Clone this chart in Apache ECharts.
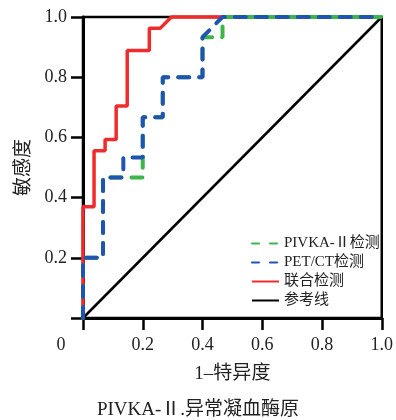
<!DOCTYPE html>
<html>
<head>
<meta charset="utf-8">
<script src="https://cdn.jsdelivr.net/npm/echarts@6/dist/echarts.min.js"></script>
<style>
  html, body { margin: 0; padding: 0; background: #fff; }
  #chart { width: 396px; height: 420px; }
</style>
</head>
<body>
<div id="chart"></div>
<script>
// 坐标轴刻度
const xTicks = [0, 0.2, 0.4, 0.6, 0.8, 1.0];
const yTicks = [0, 0.2, 0.4, 0.6, 0.8, 1.0];

// 各曲线 (1-特异度, 敏感度)
const pivkaFpr = [0, 0, 0.067, 0.067, 0.2, 0.2, 0.267, 0.267, 0.4, 0.4, 0.467, 0.467, 1];
const pivkaTpr = [0, 0.2, 0.2, 0.467, 0.467, 0.667, 0.667, 0.8, 0.8, 0.933, 0.933, 1, 1];

const petFpr = [0, 0, 0.067, 0.067, 0.135, 0.135, 0.2, 0.2, 0.267, 0.267, 0.4, 0.4, 0.467, 1];
const petTpr = [0, 0.2, 0.2, 0.467, 0.467, 0.533, 0.533, 0.667, 0.667, 0.8, 0.8, 0.933, 1, 1];

const combFpr = [0, 0, 0.037, 0.037, 0.074, 0.074, 0.111, 0.111, 0.148, 0.148, 0.222, 0.222, 0.259, 0.296, 1];
const combTpr = [0, 0.37, 0.37, 0.556, 0.556, 0.593, 0.593, 0.704, 0.704, 0.889, 0.889, 0.963, 0.963, 1, 1];

const refFpr = [0, 1];
const refTpr = [0, 1];

const names = ["PIVKA-Ⅱ检测", "PET/CT检测", "联合检测", "参考线"];

const FONT = "'Liberation Serif', 'Noto Sans CJK SC', serif";

function pairs(xs, ys) {
  return xs.map((x, i) => [x, ys[i]]);
}

let chart = echarts.init(document.getElementById("chart"), null, {renderer: "canvas"});
chart.setOption({
  animation: false,
  backgroundColor: "#fff",
  title: {
    text: "PIVKA-Ⅱ.异常凝血酶原",
    left: "center",
    top: 396,
    textStyle: {fontFamily: FONT, fontSize: 19, fontWeight: "normal", color: "#222"}
  },
  grid: {
    left: 83, right: 13, top: 17, bottom: 102,
    show: true, borderColor: "#000", borderWidth: 2.5
  },
  legend: {
    orient: "vertical",
    left: 246,
    top: 231,
    itemWidth: 27,
    itemHeight: 14,
    itemGap: 4,
    itemStyle: {opacity: 0},
    textStyle: {fontFamily: FONT, fontSize: 15, color: "#222"},
    data: [
      {name: names[0], lineStyle: {type: [7, 11], cap: "round"}},
      {name: names[1], lineStyle: {type: [7, 11], cap: "round"}},
      {name: names[2]},
      {name: names[3]}
    ]
  },
  xAxis: {
    type: "value",
    min: xTicks[0],
    max: xTicks[xTicks.length - 1],
    interval: 0.2,
    name: "1–特异度",
    nameLocation: "middle",
    nameGap: 47,
    nameTextStyle: {fontFamily: FONT, fontSize: 19, color: "#222"},
    axisLine: {show: true, lineStyle: {color: "#000", width: 3}},
    axisTick: {show: true, length: 12, lineStyle: {color: "#000", width: 2.5}},
    splitLine: {show: false},
    axisLabel: {
      margin: 18,
      fontFamily: FONT, fontSize: 18, color: "#222",
      formatter: v => v === 0 ? "{z|0}" : v.toFixed(1),
      rich: {z: {fontFamily: FONT, fontSize: 18, color: "#222", padding: [0, 44, 0, 0]}}
    }
  },
  yAxis: {
    type: "value",
    min: yTicks[0],
    max: yTicks[yTicks.length - 1],
    interval: 0.2,
    name: "敏感度",
    nameLocation: "middle",
    nameRotate: 90,
    nameGap: 48,
    nameTextStyle: {fontFamily: FONT, fontSize: 19, color: "#222"},
    axisLine: {show: true, lineStyle: {color: "#000", width: 3}},
    axisTick: {show: true, length: 12, lineStyle: {color: "#000", width: 2.5}},
    splitLine: {show: false},
    axisLabel: {
      margin: 16,
      fontFamily: FONT, fontSize: 18, color: "#222",
      formatter: v => v === 0 ? "" : v.toFixed(1)
    }
  },
  series: [
    {
      name: names[3], type: "line", data: pairs(refFpr, refTpr),
      symbol: "none", clip: false,
      lineStyle: {color: "#000", width: 2.5},
      itemStyle: {color: "#000"}
    },
    {
      name: names[2], type: "line", data: pairs(combFpr, combTpr),
      symbol: "none", clip: false,
      lineStyle: {color: "#f02b2b", width: 3.5},
      itemStyle: {color: "#f02b2b"}
    },
    {
      name: names[0], type: "line", data: pairs(pivkaFpr, pivkaTpr),
      symbol: "none", clip: false,
      lineStyle: {color: "#3db54a", width: 4, type: [11, 10], cap: "round"},
      itemStyle: {color: "#3db54a"}
    },
    {
      name: names[1], type: "line", data: pairs(petFpr, petTpr),
      symbol: "none", clip: false,
      lineStyle: {color: "#1f55b0", width: 4, type: [11, 10], cap: "round"},
      itemStyle: {color: "#1f55b0"}
    }
  ]
});
</script>
</body>
</html>
